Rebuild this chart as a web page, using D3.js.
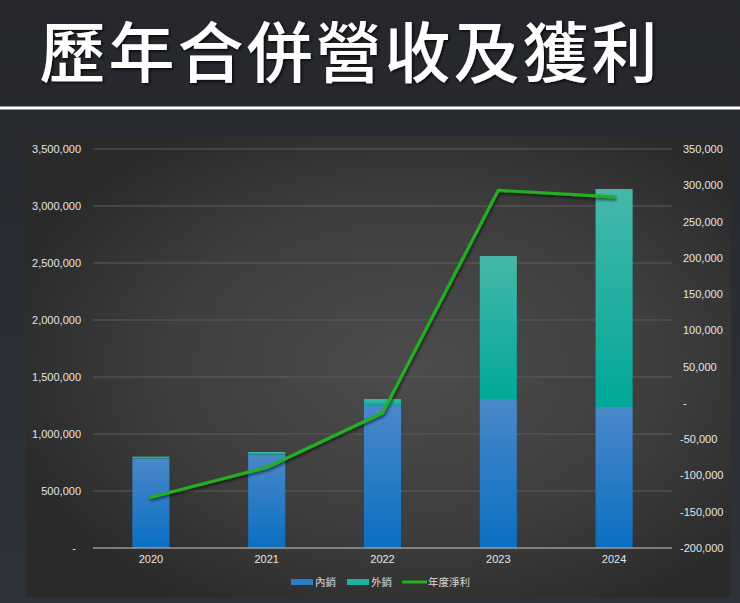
<!DOCTYPE html>
<html><head><meta charset="utf-8">
<script src="https://cdn.jsdelivr.net/npm/d3@7/dist/d3.min.js"></script>
<style>
html,body{margin:0;padding:0;background:#24262b;}
svg{display:block;}
</style></head>
<body>
<script>
const years = ["2020","2021","2022","2023","2024"];
const domestic = [785000, 820000, 1245000, 1307000, 1237000];
const foreign = [16000, 22000, 61000, 1254000, 1912000];
const netProfit = [-130000, -89000, -14000, 293000, 284000];
const leftTicks = [0, 500000, 1000000, 1500000, 2000000, 2500000, 3000000, 3500000];
const rightTicks = [-200000, -150000, -100000, -50000, 0, 50000, 100000, 150000, 200000, 250000, 300000, 350000];
const seriesNames = ["內銷", "外銷", "年度淨利"];
const title = "歷年合併營收及獲利";

(function(){
const W = 740, H = 603;
const svg = d3.select("body").append("svg").attr("width", W).attr("height", H);
const defs = svg.append("defs");

const bg = defs.append("linearGradient").attr("id","bg").attr("x1",0).attr("y1",0).attr("x2",0).attr("y2",1);
bg.append("stop").attr("offset",0).attr("stop-color","#25272c");
bg.append("stop").attr("offset",1).attr("stop-color","#2e323a");
svg.append("rect").attr("width",W).attr("height",H).attr("fill","url(#bg)");

const pg = defs.append("radialGradient").attr("id","panel").attr("cx","0.55").attr("cy","0.5").attr("r","0.6");
pg.append("stop").attr("offset",0).attr("stop-color","#4c4c4c");
pg.append("stop").attr("offset",0.6).attr("stop-color","#3d3d3d");
pg.append("stop").attr("offset",1).attr("stop-color","#2a2a2a");
svg.append("rect").attr("x",26).attr("y",136).attr("width",705).attr("height",461).attr("fill","url(#panel)");

svg.append("rect").attr("x",0).attr("y",106.5).attr("width",W).attr("height",3).attr("fill","#ffffff");

const f = defs.append("filter").attr("id","ts").attr("x","-10%").attr("y","-10%").attr("width","120%").attr("height","130%");
f.append("feDropShadow").attr("dx",1.5).attr("dy",1.5).attr("stdDeviation",1.5).attr("flood-color","#000").attr("flood-opacity",0.8);
svg.append("text").attr("x",350).attr("y",77).attr("text-anchor","middle")
  .attr("font-family","'Noto Sans CJK TC','Noto Sans CJK SC',sans-serif").attr("font-weight",500)
  .attr("font-size",66).attr("letter-spacing",3).attr("fill","#ffffff").attr("filter","url(#ts)").text(title);

const pLeft = 93, pRight = 672, pTop = 149, pBottom = 548;
const x = d3.scaleBand().domain(years).range([pLeft, pRight]).paddingInner(0.68).paddingOuter(0.34);
const yL = d3.scaleLinear().domain([0, 3500000]).range([pBottom, pTop]);
const yR = d3.scaleLinear().domain([-200000, 350000]).range([pBottom, pTop]);

svg.append("g").selectAll("line").data(leftTicks.filter(d=>d>0)).join("line")
  .attr("x1",pLeft).attr("x2",pRight).attr("y1",d=>yL(d)).attr("y2",d=>yL(d))
  .attr("stroke","#5c5c5c").attr("stroke-width",1);

function grad(id, c1, c2){
  const g = defs.append("linearGradient").attr("id",id).attr("x1",0).attr("y1",0).attr("x2",0).attr("y2",1);
  g.append("stop").attr("offset",0).attr("stop-color",c1);
  g.append("stop").attr("offset",1).attr("stop-color",c2);
}
grad("gBlue","#4a88c8","#0a6fc2");
grad("gTeal","#46b8aa","#00a898");

const stacked = years.map((y,i)=>({year:y, d:domestic[i], f:foreign[i]}));
const gb = svg.append("g");
gb.selectAll("rect.dom").data(stacked).join("rect").attr("class","dom")
  .attr("x",d=>x(d.year)).attr("width",x.bandwidth())
  .attr("y",d=>yL(d.d)).attr("height",d=>yL(0)-yL(d.d)).attr("fill","url(#gBlue)");
gb.selectAll("rect.for").data(stacked).join("rect").attr("class","for")
  .attr("x",d=>x(d.year)).attr("width",x.bandwidth())
  .attr("y",d=>yL(d.d+d.f)).attr("height",d=>yL(d.d)-yL(d.d+d.f)).attr("fill","url(#gTeal)");

svg.append("line").attr("x1",pLeft).attr("x2",pRight).attr("y1",pBottom).attr("y2",pBottom)
  .attr("stroke","#c8c8c8").attr("stroke-width",1.2);

const lf = defs.append("filter").attr("id","ls").attr("x","-10%").attr("y","-10%").attr("width","120%").attr("height","130%");
lf.append("feDropShadow").attr("dx",1).attr("dy",2).attr("stdDeviation",1.5).attr("flood-color","#000").attr("flood-opacity",0.6);
const line = d3.line().x((d,i)=>x(years[i])+x.bandwidth()/2).y(d=>yR(d)).curve(d3.curveLinear);
svg.append("path").attr("d",line(netProfit)).attr("fill","none").attr("stroke","#22b022")
  .attr("stroke-width",3.2).attr("stroke-linejoin","round").attr("stroke-linecap","round").attr("filter","url(#ls)");

const font = "'Liberation Sans',Arial,sans-serif";
const fmt0 = d3.format(",");
const fmt = d => d === 0 ? "-" : fmt0(d).replace("\u2212", "-");
const axL = d3.axisLeft(yL).tickValues(leftTicks).tickSize(0).tickPadding(0).tickFormat(fmt);
const gL = svg.append("g").attr("transform","translate(81,0)").call(axL);
gL.select(".domain").remove();
gL.selectAll("text").attr("fill","#e6e6e6").attr("font-size",11).attr("font-family",font)
  .attr("dx",d=>d===0?-5:0);

const axR = d3.axisRight(yR).tickValues(rightTicks).tickSize(0).tickPadding(0).tickFormat(fmt);
const gR = svg.append("g").attr("transform","translate(681,0)").call(axR);
gR.select(".domain").remove();
gR.selectAll("text").attr("fill","#e6e6e6").attr("font-size",11).attr("font-family",font)
  .attr("dx",d=>d<0?-1:2);

const axX = d3.axisBottom(x).tickSize(0).tickPadding(0);
const gX = svg.append("g").attr("transform","translate(0,555)").call(axX);
gX.select(".domain").remove();
gX.selectAll("text").attr("fill","#e6e6e6").attr("font-size",11).attr("font-family",font);

const legend = [
  {name:seriesNames[0], type:"bar", fill:"#2a7ec6", x:291},
  {name:seriesNames[1], type:"bar", fill:"#1ab3a2", x:347},
  {name:seriesNames[2], type:"line", fill:"#22b022", x:402}
];
const lg = svg.append("g");
legend.forEach(it=>{
  if(it.type==="bar"){
    lg.append("rect").attr("x",it.x).attr("y",579).attr("width",22).attr("height",6).attr("fill",it.fill);
  } else {
    lg.append("line").attr("x1",it.x).attr("x2",it.x+25).attr("y1",582).attr("y2",582).attr("stroke",it.fill).attr("stroke-width",3);
  }
  lg.append("text").attr("x",it.x+(it.type==="bar"?24:26)).attr("y",586).attr("fill","#d8d8d8")
    .attr("font-size",10.5).attr("font-family","'Noto Sans CJK TC',sans-serif").text(it.name);
});
})();
</script>
</body></html>
